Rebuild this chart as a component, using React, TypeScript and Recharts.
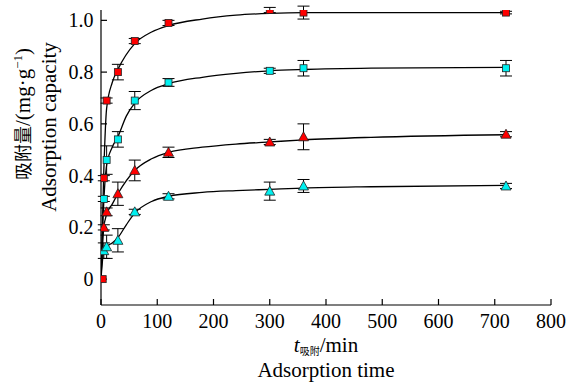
import {
  ComposedChart, Line, Scatter, XAxis, YAxis, ErrorBar
} from 'recharts'

// measured points: t (min), q (mg/g), e (error)
const redSquares = [
  { t: 3, q: 0, e: 0 },
  { t: 5, q: 0.39, e: 0.01 },
  { t: 10, q: 0.69, e: 0.01 },
  { t: 30, q: 0.80, e: 0.03 },
  { t: 60, q: 0.92, e: 0.01 },
  { t: 120, q: 0.99, e: 0.01 },
  { t: 300, q: 1.04, e: 0.01 },
  { t: 360, q: 1.03, e: 0.025 },
  { t: 720, q: 1.03, e: 0.005 },
]
const cyanSquares = [
  { t: 5, q: 0.31, e: 0.01 },
  { t: 10, q: 0.46, e: 0.055 },
  { t: 30, q: 0.54, e: 0.03 },
  { t: 60, q: 0.69, e: 0.035 },
  { t: 120, q: 0.76, e: 0.015 },
  { t: 300, q: 0.805, e: 0.01 },
  { t: 360, q: 0.815, e: 0.03 },
  { t: 720, q: 0.815, e: 0.03 },
]
const redTriangles = [
  { t: 5, q: 0.2, e: 0.01 },
  { t: 10, q: 0.26, e: 0.015 },
  { t: 30, q: 0.33, e: 0.045 },
  { t: 60, q: 0.42, e: 0.04 },
  { t: 120, q: 0.49, e: 0.02 },
  { t: 300, q: 0.53, e: 0.01 },
  { t: 360, q: 0.55, e: 0.05 },
  { t: 720, q: 0.56, e: 0.01 },
]
const cyanTriangles = [
  { t: 5, q: 0.11, e: 0.03 },
  { t: 10, q: 0.125, e: 0.045 },
  { t: 30, q: 0.15, e: 0.045 },
  { t: 60, q: 0.26, e: 0.01 },
  { t: 120, q: 0.32, e: 0.01 },
  { t: 300, q: 0.34, e: 0.035 },
  { t: 360, q: 0.36, e: 0.025 },
  { t: 720, q: 0.36, e: 0.01 },
]

// fitted curves
const redSquareFit = [
  { t: 0, q: 0 }, { t: 5, q: 0.42 }, { t: 10, q: 0.66 }, { t: 20, q: 0.76 },
  { t: 30, q: 0.81 }, { t: 60, q: 0.91 }, { t: 90, q: 0.955 }, { t: 120, q: 0.98 },
  { t: 180, q: 1.005 }, { t: 240, q: 1.02 }, { t: 300, q: 1.027 }, { t: 360, q: 1.03 },
  { t: 480, q: 1.03 }, { t: 720, q: 1.03 },
]
const cyanSquareFit = [
  { t: 0, q: 0 }, { t: 5, q: 0.3 }, { t: 10, q: 0.44 }, { t: 20, q: 0.51 },
  { t: 30, q: 0.55 }, { t: 45, q: 0.63 }, { t: 60, q: 0.68 }, { t: 90, q: 0.73 },
  { t: 120, q: 0.755 }, { t: 180, q: 0.78 }, { t: 240, q: 0.795 }, { t: 300, q: 0.805 },
  { t: 360, q: 0.81 }, { t: 480, q: 0.815 }, { t: 720, q: 0.818 },
]
const redTriangleFit = [
  { t: 0, q: 0 }, { t: 5, q: 0.2 }, { t: 10, q: 0.25 }, { t: 20, q: 0.29 },
  { t: 30, q: 0.33 }, { t: 60, q: 0.42 }, { t: 90, q: 0.465 }, { t: 120, q: 0.49 },
  { t: 180, q: 0.51 }, { t: 240, q: 0.522 }, { t: 300, q: 0.53 }, { t: 360, q: 0.538 },
  { t: 480, q: 0.548 }, { t: 720, q: 0.558 },
]
const cyanTriangleFit = [
  { t: 0, q: 0 }, { t: 5, q: 0.11 }, { t: 10, q: 0.125 }, { t: 20, q: 0.14 },
  { t: 30, q: 0.16 }, { t: 45, q: 0.21 }, { t: 60, q: 0.255 }, { t: 90, q: 0.3 },
  { t: 120, q: 0.32 }, { t: 180, q: 0.335 }, { t: 240, q: 0.342 }, { t: 300, q: 0.347 },
  { t: 360, q: 0.352 }, { t: 480, q: 0.357 }, { t: 720, q: 0.362 },
]

const xTicks = [0, 100, 200, 300, 400, 500, 600, 700, 800]
const yTicks = [0, 0.2, 0.4, 0.6, 0.8, 1.0]

const RED = '#ff0000'
const CYAN = '#00f0f0'
const EDGE = '#222'
const FONT = '"Liberation Serif", "Times New Roman", serif'
const CJK = '"Noto Sans CJK SC", sans-serif'

const square = (fill: string) => (p: any) => (
  <rect x={p.cx - 3.5} y={p.cy - 3.5} width={7} height={7} fill={fill} stroke={EDGE} strokeWidth={0.8} />
)
const triangle = (fill: string) => (p: any) => (
  <polygon
    points={`${p.cx},${p.cy - 5} ${p.cx - 5},${p.cy + 4} ${p.cx + 5},${p.cy + 4}`}
    fill={fill} stroke={EDGE} strokeWidth={0.8}
  />
)

const yLabel = () => (
  <g fontFamily={FONT} fontSize={21} fill="#000">
    <text transform="translate(30,114) rotate(-90)" textAnchor="middle">
      <tspan fontFamily={CJK} fontSize={18}>吸附量</tspan>
      <tspan>/(mg·g</tspan>
      <tspan fontSize={13} dy={-8}>−1</tspan>
      <tspan dy={8}>)</tspan>
    </text>
    <text transform="translate(56,127) rotate(-90)" textAnchor="middle">Adsorption capacity</text>
  </g>
)

const xLabel = () => (
  <g fontFamily={FONT} fontSize={21} fill="#000">
    <text x={326} y={352} textAnchor="middle">
      <tspan fontStyle="italic">t</tspan>
      <tspan fontFamily={CJK} fontSize={10} dy={3}>吸附</tspan>
      <tspan dy={-3}>/min</tspan>
    </text>
    <text x={326} y={377} textAnchor="middle">Adsorption time</text>
  </g>
)

export default function App() {
  const fits = [redSquareFit, cyanSquareFit, redTriangleFit, cyanTriangleFit]
  const sets = [
    { data: redSquares, shape: square(RED) },
    { data: cyanSquares, shape: square(CYAN) },
    { data: redTriangles, shape: triangle(RED) },
    { data: cyanTriangles, shape: triangle(CYAN) },
  ]
  return (
    <div style={{ position: 'absolute', left: 0, top: 0, background: '#fff' }}>
      <ComposedChart width={581} height={384} margin={{ top: 10, right: 30, bottom: 0, left: 41 }}>
        <XAxis
          type="number" dataKey="t" domain={[0, 800]} ticks={xTicks} height={79}
          allowDataOverflow tickSize={-6} tickMargin={14.8}
          axisLine={{ stroke: '#000', strokeWidth: 1.2 }} tickLine={{ stroke: '#000', strokeWidth: 1.2 }}
          tick={{ fill: '#000', fontSize: 20, fontFamily: FONT }}
          label={{ content: xLabel }}
        />
        <YAxis
          type="number" dataKey="q" domain={[-0.1, 1.04]} ticks={yTicks} width={60}
          allowDataOverflow tickSize={-6} tickMargin={13.5}
          tickFormatter={(v: number) => (v === 0 ? '0' : v.toFixed(1))}
          axisLine={{ stroke: '#000', strokeWidth: 1.2 }} tickLine={{ stroke: '#000', strokeWidth: 1.2 }}
          tick={{ fill: '#000', fontSize: 20, fontFamily: FONT }}
          label={{ content: yLabel }}
        />
        {fits.map((d, i) => (
          <Line
            key={'fit' + i} data={d} dataKey="q" type="monotone" stroke="#000" strokeWidth={1.3}
            dot={false} activeDot={false} isAnimationActive={false}
          />
        ))}
        {sets.map((s, i) => (
          <Scatter key={'pts' + i} data={s.data} dataKey="q" shape={s.shape} isAnimationActive={false}>
            <ErrorBar dataKey="e" direction="y" width={6} stroke="#000" strokeWidth={1} />
          </Scatter>
        ))}
      </ComposedChart>
    </div>
  )
}
